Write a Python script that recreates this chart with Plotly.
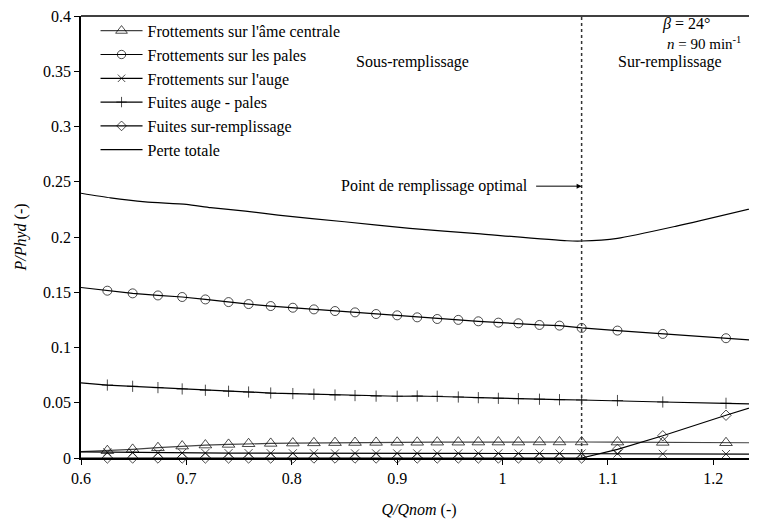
import plotly.graph_objects as go

# Marker abscissae (Q/Qnom)
q_pts = [0.6, 0.625, 0.649, 0.673, 0.696, 0.718, 0.740, 0.759, 0.780, 0.801, 0.821,
         0.841, 0.860, 0.880, 0.900, 0.919, 0.938, 0.958, 0.977, 0.996, 1.015,
         1.035, 1.054, 1.075, 1.109, 1.152, 1.212, 1.25]

frott_ame = [0.0057, 0.0066, 0.0078, 0.0093, 0.0108, 0.0117, 0.0123, 0.0129, 0.0132, 0.0135,
             0.0137, 0.0139, 0.0140, 0.0141, 0.0142, 0.0142, 0.0143, 0.0143, 0.0144, 0.0144,
             0.0144, 0.0145, 0.0145, 0.0145, 0.0144, 0.0141, 0.0138, 0.0137]
frott_pales = [0.1543, 0.1514, 0.1490, 0.1471, 0.1457, 0.1435, 0.1411, 0.1393, 0.1375, 0.1360,
               0.1345, 0.1330, 0.1318, 0.1303, 0.1291, 0.1273, 0.1258, 0.1250, 0.1237, 0.1225,
               0.1219, 0.1204, 0.1198, 0.1177, 0.1153, 0.1123, 0.1084, 0.1058]
frott_auge = [0.0055, 0.0052, 0.0050, 0.0048, 0.0046, 0.0045, 0.0044, 0.0044, 0.0043, 0.0043,
              0.0043, 0.0042, 0.0042, 0.0042, 0.0042, 0.0042, 0.0042, 0.0042, 0.0042, 0.0042,
              0.0041, 0.0041, 0.0041, 0.0041, 0.0040, 0.0038, 0.0036, 0.0035]
fuites_auge = [0.0679, 0.0660, 0.0649, 0.0637, 0.0625, 0.0613, 0.0604, 0.0597, 0.0588, 0.0583,
               0.0577, 0.0570, 0.0565, 0.0560, 0.0559, 0.0561, 0.0559, 0.0552, 0.0546, 0.0540,
               0.0537, 0.0532, 0.0528, 0.0525, 0.0520, 0.0507, 0.0495, 0.0487]
fuites_sur = [0.0, 0.0, 0.0, 0.0, 0.0, 0.0, 0.0, 0.0, 0.0, 0.0,
              0.0, 0.0, 0.0, 0.0, 0.0, 0.0, 0.0, 0.0, 0.0, 0.0,
              0.0, 0.0, 0.0, 0.0, 0.0078, 0.0201, 0.0387, 0.0500]

q_total = [0.6, 0.628, 0.661, 0.700, 0.723, 0.756, 0.787, 0.850, 0.912, 0.976,
           1.061, 1.075, 1.109, 1.165, 1.25]
perte_totale = [0.2396, 0.2354, 0.2318, 0.2295, 0.2266, 0.2234, 0.2198, 0.2138, 0.2078, 0.2030,
                0.1966, 0.1964, 0.1988, 0.2099, 0.2290]

q_opt = 1.075

names = ["Frottements sur l'âme centrale", "Frottements sur les pales",
         "Frottements sur l'auge", "Fuites auge - pales", "Fuites sur-remplissage"]
series = [frott_ame, frott_pales, frott_auge, fuites_auge, fuites_sur]
symbols = ["triangle-up-open", "circle-open", "x-thin-open", "cross-thin-open", "diamond-open"]
msizes = [11, 9, 8, 8, 8]
lcolors = ["#444444", "black", "black", "black", "black"]

FONT = "Liberation Serif"
FS = 16
fig = go.Figure()
n = len(q_pts)
for i, (nm, ys, sym, ms, lc) in enumerate(zip(names, series, symbols, msizes, lcolors)):
    sizes = [0] + [ms] * (n - 2) + [0]
    fig.add_trace(go.Scatter(
        x=q_pts, y=ys, name=nm, mode="lines+markers", legendgroup=str(i),
        line=dict(color=lc, width=1.2),
        marker=dict(symbol=sym, size=sizes, color="black", line=dict(color="black", width=1)),
        cliponaxis=False if i == 4 else True,
    ))
fig.add_trace(go.Scatter(
    x=q_total, y=perte_totale, name="Perte totale", mode="lines", legendgroup="5",
    line=dict(color="black", width=1.2, shape="spline", smoothing=0.6),
))

fig.add_shape(type="line", x0=q_opt, x1=q_opt, y0=0, y1=0.4, xref="x", yref="y",
              line=dict(color="#333333", width=1.5, dash="dot"))
fig.add_shape(type="line", x0=0, x1=1, y0=1, y1=1, xref="paper", yref="paper",
              line=dict(color="black", width=1.5))

ann_font = dict(family=FONT, size=FS, color="black")
fig.add_annotation(x=q_opt, y=0.246, ax=-47, ay=0, xref="x", yref="y", text="",
                   showarrow=True, arrowhead=2, arrowsize=1, arrowwidth=1, arrowcolor="black")
fig.add_annotation(x=1.026, y=0.246, xref="x", yref="y", text="Point de remplissage optimal",
                   showarrow=False, xanchor="right", font=ann_font)
fig.add_annotation(x=0.915, y=0.358, xref="x", yref="y", text="Sous-remplissage",
                   showarrow=False, font=ann_font)
fig.add_annotation(x=1.159, y=0.358, xref="x", yref="y", text="Sur-remplissage",
                   showarrow=False, font=ann_font)
fig.add_annotation(x=1.149, y=0.3925, xref="x", yref="y", text="<i>β</i> = 24°",
                   showarrow=False, xanchor="left", font=ann_font)
fig.add_annotation(x=1.154, y=0.3755, xref="x", yref="y", text="<i>n</i> = 90 min<sup>-1</sup>",
                   showarrow=False, xanchor="left", font=dict(family=FONT, size=15, color="black"))

fig.update_layout(
    width=749, height=520,
    margin=dict(l=73, r=0, t=6, b=70),
    plot_bgcolor="white", paper_bgcolor="white",
    font=dict(family=FONT, size=FS, color="black"),
    showlegend=True,
    legend=dict(x=0.0215, y=1.005, xanchor="left", yanchor="top", itemwidth=42,
                bgcolor="rgba(0,0,0,0)", traceorder="grouped", tracegroupgap=0,
                font=dict(family=FONT, size=FS)),
    xaxis=dict(range=[0.6, 1.2414], tickvals=[0.6, 0.7, 0.8, 0.9, 1.0, 1.1, 1.2],
               ticktext=["0.6", "0.7", "0.8", "0.9", "1", "1.1", "1.2"],
               showline=True, linecolor="black", linewidth=1.5, ticks="outside",
               ticklen=5, tickcolor="black", showgrid=False, zeroline=False,
               ticklabeloverflow="allow",
               title=dict(text="<i>Q/Qnom</i> (-)", standoff=18, font=dict(size=FS))),
    yaxis=dict(range=[0, 0.4], tickvals=[0, 0.05, 0.1, 0.15, 0.2, 0.25, 0.3, 0.35, 0.4],
               ticktext=["0", "0.05", "0.1", "0.15", "0.2", "0.25", "0.3", "0.35", "0.4"],
               showline=True, linecolor="black", linewidth=1.5, ticks="outside",
               ticklen=5, tickcolor="black", showgrid=False, zeroline=False,
               ticklabeloverflow="allow",
               title=dict(text="<i>P/Phyd</i> (-)", standoff=12, font=dict(size=FS))),
)

fig.write_html("out.html")
